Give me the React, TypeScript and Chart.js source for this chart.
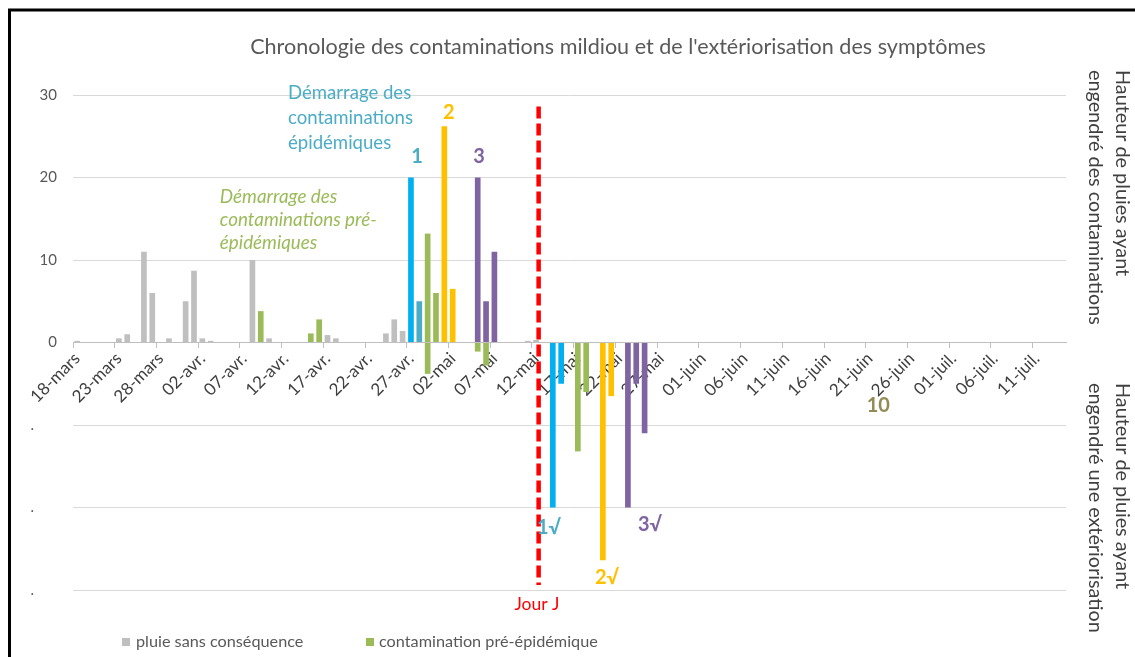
import React, { useEffect, useRef } from "react";
import { Chart, registerables } from "chart.js";

Chart.register(...registerables);

// ---- categories (one per day) ----
const monthNames = ["mars", "avr.", "mai", "juin", "juil."];
const monthFirstDay = [18, 1, 1, 1, 1];
const monthLastDay = [31, 30, 31, 30, 14];
const days: string[] = [];
monthNames.forEach((m, k) => {
  for (let d = monthFirstDay[k]; d <= monthLastDay[k]; d++) {
    days.push(`${String(d).padStart(2, "0")}-${m}`);
  }
});

// ---- series ----
const grayDays = ["18-mars", "23-mars", "24-mars", "26-mars", "27-mars", "29-mars", "31-mars", "01-avr.", "02-avr.", "03-avr.", "08-avr.", "10-avr.", "17-avr.", "18-avr.", "24-avr.", "25-avr.", "26-avr.", "11-mai", "12-mai"];
const grayValues = [0.2, 0.5, 1, 11, 6, 0.5, 5, 8.7, 0.5, 0.2, 10, 0.5, 0.9, 0.5, 1.1, 2.8, 1.4, 0.2, 0.3];

const preDays = ["09-avr.", "15-avr.", "16-avr.", "29-avr.", "30-avr."];
const preValues = [3.8, 1.1, 2.8, 13.2, 6];
const preExtDays = ["29-avr.", "05-mai", "06-mai", "17-mai", "18-mai"];
const preExtValues = [-3.8, -1.1, -2.8, -13.2, -6];

const epi1Days = ["27-avr."];
const epi1Values = [20];
const epi1bDays = ["28-avr."];
const epi1bValues = [5];
const epi1ExtDays = ["14-mai", "15-mai"];
const epi1ExtValues = [-20, -5];

const epi2Days = ["01-mai", "02-mai"];
const epi2Values = [26.2, 6.5];
const epi2ExtDays = ["20-mai", "21-mai"];
const epi2ExtValues = [-26.4, -6.5];

const epi3Days = ["05-mai", "06-mai", "07-mai"];
const epi3Values = [20, 5, 11];
const epi3ExtDays = ["23-mai", "24-mai", "25-mai"];
const epi3ExtValues = [-20, -5, -11];

const yTickValues = [-30, -20, -10, 0, 10, 20, 30];

const FAMILY = "Lato, 'DejaVu Sans', sans-serif";
const GRAY = "#BFBFBF";
const GREEN = "#9BBB59";
const BLUE = "#00B0F0";
const TEAL = "#4BACC6";
const ORANGE = "#FFC000";
const PURPLE = "#8064A2";

const series = (dayList: string[], values: number[]) =>
  days.map((d) => {
    const i = dayList.indexOf(d);
    return i >= 0 ? values[i] : null;
  });

const fitSize = (ctx: CanvasRenderingContext2D, text: string, width: number, style: string) => {
  ctx.font = `${style} 100px ${FAMILY}`;
  return (100 * width) / ctx.measureText(text).width;
};

const annotPlugin = {
  id: "annot",
  afterDraw(chart: any) {
    const ctx: CanvasRenderingContext2D = chart.ctx;
    const x = chart.scales.x;
    const y = chart.scales.y;
    const X = (label: string, dx: number) => x.getPixelForValue(days.indexOf(label) + dx);
    const Y = (v: number) => y.getPixelForValue(v);
    ctx.save();

    // frame
    ctx.strokeStyle = "#000";
    ctx.lineWidth = 3;
    ctx.beginPath();
    ctx.moveTo(9.5, 700);
    ctx.lineTo(9.5, 10);
    ctx.lineTo(1200, 10);
    ctx.stroke();

    // red dashed "Jour J" line
    ctx.strokeStyle = "#FF0000";
    ctx.lineWidth = 4.5;
    ctx.setLineDash([12, 5]);
    ctx.beginPath();
    ctx.moveTo(X("12-mai", 0.3), Y(28.6));
    ctx.lineTo(X("12-mai", 0.3), Y(-29.4));
    ctx.stroke();
    ctx.setLineDash([]);

    ctx.textBaseline = "middle";

    // title
    let s = fitSize(ctx, "Chronologie des contaminations mildiou et de l'extériorisation des symptômes", 736, "");
    ctx.font = `${s}px ${FAMILY}`;
    ctx.fillStyle = "#595959";
    ctx.textAlign = "center";
    ctx.fillText("Chronologie des contaminations mildiou et de l'extériorisation des symptômes", 618, 47);

    // blue block
    s = fitSize(ctx, "contaminations", 125, "");
    ctx.font = `${s}px ${FAMILY}`;
    ctx.fillStyle = TEAL;
    ctx.textAlign = "left";
    const bx = X("12-avr.", 0.26);
    ctx.fillText("Démarrage des", bx, Y(30.3));
    ctx.fillText("contaminations", bx, Y(27.2));
    ctx.fillText("épidémiques", bx, Y(24.2));

    // green italic block
    s = fitSize(ctx, "contaminations pré-", 157, "italic");
    ctx.font = `italic ${s}px ${FAMILY}`;
    ctx.fillStyle = GREEN;
    const gx = X("04-avr.", 0.1);
    ctx.fillText("Démarrage des", gx, Y(17.7));
    ctx.fillText("contaminations pré-", gx, Y(14.9));
    ctx.fillText("épidémiques", gx, Y(12.1));

    // numbers
    ctx.textAlign = "center";
    ctx.font = `bold 20px ${FAMILY}`;
    const nums: [string, string, number, number, string][] = [
      ["1", "27-avr.", 0.72, 22.5, TEAL],
      ["2", "01-mai", 0.54, 27.9, ORANGE],
      ["3", "05-mai", 0.15, 22.5, PURPLE],
      ["1√", "14-mai", -0.46, -22.4, TEAL],
      ["2√", "20-mai", 0.49, -28.5, ORANGE],
      ["3√", "25-mai", 0.64, -22.1, PURPLE],
      ["10", "22-juin", 0, -7.6, "#948A54"],
    ];
    nums.forEach(([t, d, dx, v, c]) => {
      ctx.fillStyle = c;
      ctx.fillText(t, X(d, dx), Y(v));
    });

    // Jour J
    s = fitSize(ctx, "Jour J", 45, "");
    ctx.font = `${s}px ${FAMILY}`;
    ctx.fillStyle = "#FF0000";
    ctx.fillText("Jour J", X("12-mai", 0.1), Y(-31.8));

    // right titles
    s = fitSize(ctx, "engendré des contaminations", 255, "");
    ctx.font = `${s}px ${FAMILY}`;
    ctx.fillStyle = "#404040";
    ctx.textAlign = "left";
    const rot = (t: string, px: number, py: number) => {
      ctx.save();
      ctx.translate(px, py);
      ctx.rotate(Math.PI / 2);
      ctx.fillText(t, 0, 0);
      ctx.restore();
    };
    rot("Hauteur de pluies ayant", 1122, 70);
    rot("engendré des contaminations", 1095, 70);
    rot("Hauteur de pluies ayant", 1122, 383);
    rot("engendré une extériorisation", 1095, 383);

    // legend
    s = fitSize(ctx, "contamination pré-épidémique", 219, "");
    ctx.font = `${s}px ${FAMILY}`;
    ctx.fillStyle = GRAY;
    ctx.fillRect(122, 638, 8, 8);
    ctx.fillStyle = GREEN;
    ctx.fillRect(366, 638, 8, 8);
    ctx.fillStyle = "#595959";
    ctx.fillText("pluie sans conséquence", 136, 642);
    ctx.fillText("contamination pré-épidémique", 379, 642);

    ctx.restore();
  },
};

export default function App() {
  const ref = useRef<HTMLCanvasElement>(null);
  useEffect(() => {
    if (!ref.current) return;
    const ds = (label: string, dl: string[], vals: number[], color: string) => ({
      label,
      data: series(dl, vals),
      backgroundColor: color,
      stack: "s",
      barPercentage: 0.68,
      categoryPercentage: 1,
    });
    const chart = new Chart(ref.current, {
      type: "bar",
      data: {
        labels: days,
        datasets: [
          ds("pluie sans conséquence", grayDays, grayValues, GRAY),
          ds("contamination pré-épidémique", preDays, preValues, GREEN),
          ds("extériorisation pré-épidémique", preExtDays, preExtValues, GREEN),
          ds("contamination 1", epi1Days, epi1Values, BLUE),
          ds("contamination 1 bis", epi1bDays, epi1bValues, TEAL),
          ds("extériorisation 1", epi1ExtDays, epi1ExtValues, BLUE),
          ds("contamination 2", epi2Days, epi2Values, ORANGE),
          ds("extériorisation 2", epi2ExtDays, epi2ExtValues, ORANGE),
          ds("contamination 3", epi3Days, epi3Values, PURPLE),
          ds("extériorisation 3", epi3ExtDays, epi3ExtValues, PURPLE),
        ],
      },
      options: {
        animation: false,
        responsive: false,
        devicePixelRatio: 1,
        layout: { padding: { left: 0, right: 69, top: 95, bottom: 67 } },
        plugins: {
          legend: { display: false },
          title: { display: false },
          tooltip: { enabled: false },
        },
        scales: {
          x: {
            type: "category",
            stacked: true,
            offset: true,
            position: { y: 0 } as any,
            z: 1,
            grid: {
              display: true,
              drawOnChartArea: false,
              drawTicks: true,
              tickLength: 5,
              offset: true,
              color: (c: any) => (c.index % 5 === 0 ? "#BFBFBF" : "rgba(0,0,0,0)"),
            },
            border: { display: true, color: "#BFBFBF", width: 1 },
            ticks: {
              autoSkip: false,
              maxRotation: 45,
              minRotation: 45,
              padding: 1,
              color: "#404040",
              font: { family: FAMILY, size: 17 },
              callback: (_v: any, i: number) => (i % 5 === 0 ? days[i] : ""),
            },
          },
          y: {
            stacked: true,
            min: -30,
            max: 30,
            afterBuildTicks: (s: any) => {
              s.ticks = yTickValues.map((v) => ({ value: v }));
            },
            afterFit: (s: any) => {
              s.width = 73;
            },
            grid: { color: "#D9D9D9", drawTicks: false },
            border: { display: false },
            ticks: {
              padding: 16,
              color: "#595959",
              font: { family: FAMILY, size: 15 },
              callback: (v: any) => (v >= 0 ? String(v) : ".      "),
            },
          },
        },
      },
      plugins: [annotPlugin],
    });
    return () => chart.destroy();
  }, []);
  return (
    <div style={{ position: "fixed", left: 0, top: 0, width: 1135, height: 657, background: "#fff" }}>
      <canvas ref={ref} width={1135} height={657} style={{ display: "block" }} />
    </div>
  );
}
